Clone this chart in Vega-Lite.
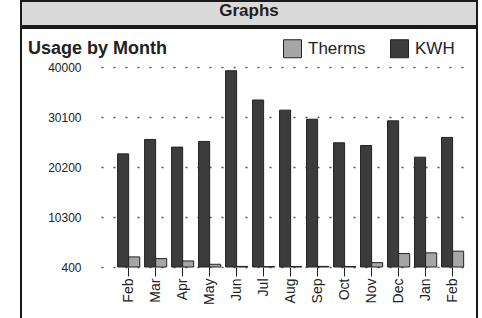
{
  "$schema": "https://vega.github.io/schema/vega-lite/v6.json",
  "background": "white",
  "padding": {"left": 20, "top": 0, "right": 6, "bottom": 0},
  "spacing": 0,
  "config": {"font": "Liberation Sans"},
  "vconcat": [
    {
      "width": 456,
      "height": 25,
      "view": {"fill": "#dadada", "stroke": "#1a1a1a", "strokeWidth": 2},
      "data": {"values": [{"label": "Graphs"}]},
      "mark": {"type": "text", "fontSize": 17, "fontWeight": "bold", "color": "#222222", "dy": -3},
      "encoding": {"text": {"field": "label", "type": "nominal"}}
    },
    {
      "width": 456,
      "height": 293,
      "view": {"fill": "white", "stroke": "#1a1a1a", "strokeWidth": 2},
      "title": {"text": "Usage by Month", "anchor": "start", "frame": "group", "offset": -30, "fontSize": 18, "fontWeight": "bold", "color": "#222222", "dx": 7},
      "data": {"values": [
        {"month": "Feb1", "series": "KWH", "value": 22800},
        {"month": "Mar", "series": "KWH", "value": 25660},
        {"month": "Apr", "series": "KWH", "value": 24140},
        {"month": "May", "series": "KWH", "value": 25260},
        {"month": "Jun", "series": "KWH", "value": 39260},
        {"month": "Jul", "series": "KWH", "value": 33460},
        {"month": "Aug", "series": "KWH", "value": 31460},
        {"month": "Sep", "series": "KWH", "value": 29660},
        {"month": "Oct", "series": "KWH", "value": 25000},
        {"month": "Nov", "series": "KWH", "value": 24460},
        {"month": "Dec", "series": "KWH", "value": 29340},
        {"month": "Jan", "series": "KWH", "value": 22140},
        {"month": "Feb2", "series": "KWH", "value": 26060},
        {"month": "Feb1", "series": "Therms", "value": 2400},
        {"month": "Mar", "series": "Therms", "value": 2060},
        {"month": "Apr", "series": "Therms", "value": 1600},
        {"month": "May", "series": "Therms", "value": 940},
        {"month": "Jun", "series": "Therms", "value": 520},
        {"month": "Jul", "series": "Therms", "value": 480},
        {"month": "Aug", "series": "Therms", "value": 500},
        {"month": "Sep", "series": "Therms", "value": 520},
        {"month": "Oct", "series": "Therms", "value": 500},
        {"month": "Nov", "series": "Therms", "value": 1260},
        {"month": "Dec", "series": "Therms", "value": 3060},
        {"month": "Jan", "series": "Therms", "value": 3200},
        {"month": "Feb2", "series": "Therms", "value": 3540}
      ]},
      "mark": {"type": "bar", "stroke": "#222222", "strokeWidth": 1},
      "encoding": {
        "x": {
          "field": "month", "type": "nominal",
          "sort": ["Feb1", "Mar", "Apr", "May", "Jun", "Jul", "Aug", "Sep", "Oct", "Nov", "Dec", "Jan", "Feb2"],
          "scale": {"range": [80, 452], "paddingInner": 0.18, "paddingOuter": 0.48, "align": 0.64},
          "axis": {"orient": "bottom", "offset": -54, "title": null, "labelAngle": -90, "labelExpr": "slice(datum.label, 0, 3)", "domain": false, "ticks": true, "tickSize": 9, "tickColor": "#222222", "labelFontSize": 14, "labelColor": "#222222", "labelPadding": 2, "grid": false}
        },
        "xOffset": {"field": "series", "type": "nominal", "sort": ["KWH", "Therms"], "scale": {"paddingInner": 0, "paddingOuter": 0}},
        "y": {
          "field": "value", "type": "quantitative",
          "scale": {"domain": [400, 40000], "range": [239, 39], "nice": false, "zero": false},
          "axis": {"orient": "left", "offset": -80, "values": [400, 10300, 20200, 30100, 40000], "format": "d", "title": null, "domain": false, "ticks": false, "labelPadding": 20, "labelFontSize": 12, "labelColor": "#222222", "grid": true, "gridColor": "#555555", "gridDash": [2, 10], "gridWidth": 1.5}
        },
        "y2": {"datum": 400},
        "color": {
          "field": "series", "type": "nominal",
          "scale": {"domain": ["Therms", "KWH"], "range": ["#a6a6a6", "#3c3c3c"]},
          "legend": {"orient": "none", "legendX": 262, "legendY": 38, "direction": "horizontal", "title": null, "symbolType": "square", "symbolSize": 324, "symbolStrokeColor": "#222222", "symbolStrokeWidth": 1, "symbolOpacity": 1, "labelFontSize": 17, "labelColor": "#222222", "labelOffset": 6, "columnPadding": 22, "padding": 0}
        }
      }
    }
  ]
}
